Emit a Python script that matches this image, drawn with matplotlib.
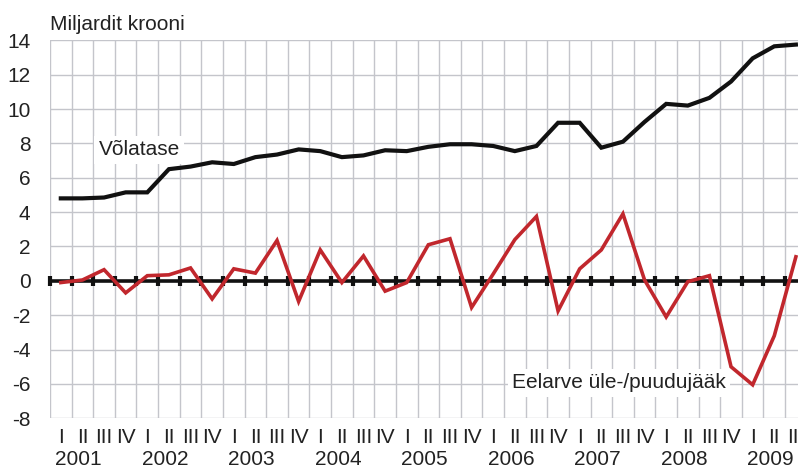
import matplotlib
matplotlib.use("Agg")
import matplotlib.pyplot as plt
import matplotlib.transforms as mtransforms
import numpy as np

plt.rcParams['font.family'] = ['Liberation Sans', 'DejaVu Sans']

years = ['2001', '2002', '2003', '2004', '2005', '2006', '2007', '2008', '2009']
quarter_names = ['I', 'II', 'III', 'IV']
n_quarters = 35  # 2001 I .. 2009 III

debt = [4.8, 4.8, 4.85, 5.15,
        5.15, 6.5, 6.65, 6.9,
        6.8, 7.2, 7.35, 7.65,
        7.55, 7.2, 7.3, 7.6,
        7.55, 7.8, 7.95, 7.95,
        7.85, 7.55, 7.85, 9.2,
        9.2, 7.75, 8.1, 9.25,
        10.3, 10.2, 10.65, 11.6,
        12.95, 13.65, 13.75]

balance = [-0.1, 0.05, 0.65, -0.7,
           0.3, 0.35, 0.75, -1.05,
           0.7, 0.45, 2.35, -1.2,
           1.8, -0.1, 1.45, -0.6,
           -0.1, 2.1, 2.45, -1.55,
           0.4, 2.4, 3.75, -1.75,
           0.7, 1.8, 3.9, 0.05,
           -2.1, -0.05, 0.3, -5.0,
           -6.05, -3.2, 1.4]

yticks = list(range(-8, 15, 2))

W, H = 798, 468
fig = plt.figure(figsize=(W / 100, H / 100), dpi=100)
left_px, top_px, bottom_px = 50, 40.3, 418.3
cell = 21.62
ax_h_px = bottom_px - top_px
ax = fig.add_axes([left_px / W, (H - bottom_px) / H, (W - left_px) / W, ax_h_px / H])
ax.set_xlim(0, (W - left_px) / cell)
ax.set_ylim(-8, 14)

for s in ax.spines.values():
    s.set_visible(False)

grid_c = '#c4c5cb'
for xv in range(0, n_quarters + 1):
    ax.axvline(xv, color=grid_c, lw=1.0, zorder=1)
for yv in yticks:
    ax.axhline(yv, color=grid_c, lw=1.0, zorder=1)

# zero line with tick marks
ax.axhline(0, color='#111111', lw=2.6, zorder=3)
xt = np.arange(0, n_quarters + 1)
ax.plot(xt, np.zeros_like(xt), linestyle='none', marker='|', ms=6.5, mew=3,
        color='#111111', zorder=3, clip_on=False)

x = np.arange(n_quarters) + 0.5
ax.plot(x, debt, color='#111111', lw=3.0, zorder=5, solid_joinstyle='miter')
ax.plot(x, balance, color='#c1272d', lw=2.6, zorder=5, solid_joinstyle='miter')

fs = 15
ax.set_yticks(yticks)
ax.set_yticklabels([str(v) for v in yticks])
ax.tick_params(axis='y', length=0, pad=14, labelsize=fs, colors='#222222')
ax.set_xticks([])

trans = mtransforms.blended_transform_factory(ax.transData, ax.transAxes)
q_base = -(443 - bottom_px) / ax_h_px
y_base = -(465 - bottom_px) / ax_h_px
for i in range(n_quarters):
    ax.text(i + 0.5, q_base, quarter_names[i % 4], transform=trans, ha='center', va='baseline',
            fontsize=fs, color='#222222', clip_on=False)
for k, yr in enumerate(years):
    ax.text(4 * k + 1.33, y_base, yr, transform=trans, ha='center', va='baseline',
            fontsize=fs, color='#222222', clip_on=False)

fig.text(left_px / W, 1 - 30 / H, 'Miljardit krooni', ha='left', va='baseline',
         fontsize=fs, color='#222222')

ax.text(4.12, 7.62, 'Võlatase', ha='center', va='center', fontsize=fs, color='#222222',
        zorder=4, bbox=dict(facecolor='white', edgecolor='none', pad=3))
ax.text(26.3, -5.94, 'Eelarve üle-/puudujääk', ha='center', va='center', fontsize=fs,
        color='#222222', zorder=4, bbox=dict(facecolor='white', edgecolor='none', pad=3))

fig.savefig('out.png', dpi=100)
